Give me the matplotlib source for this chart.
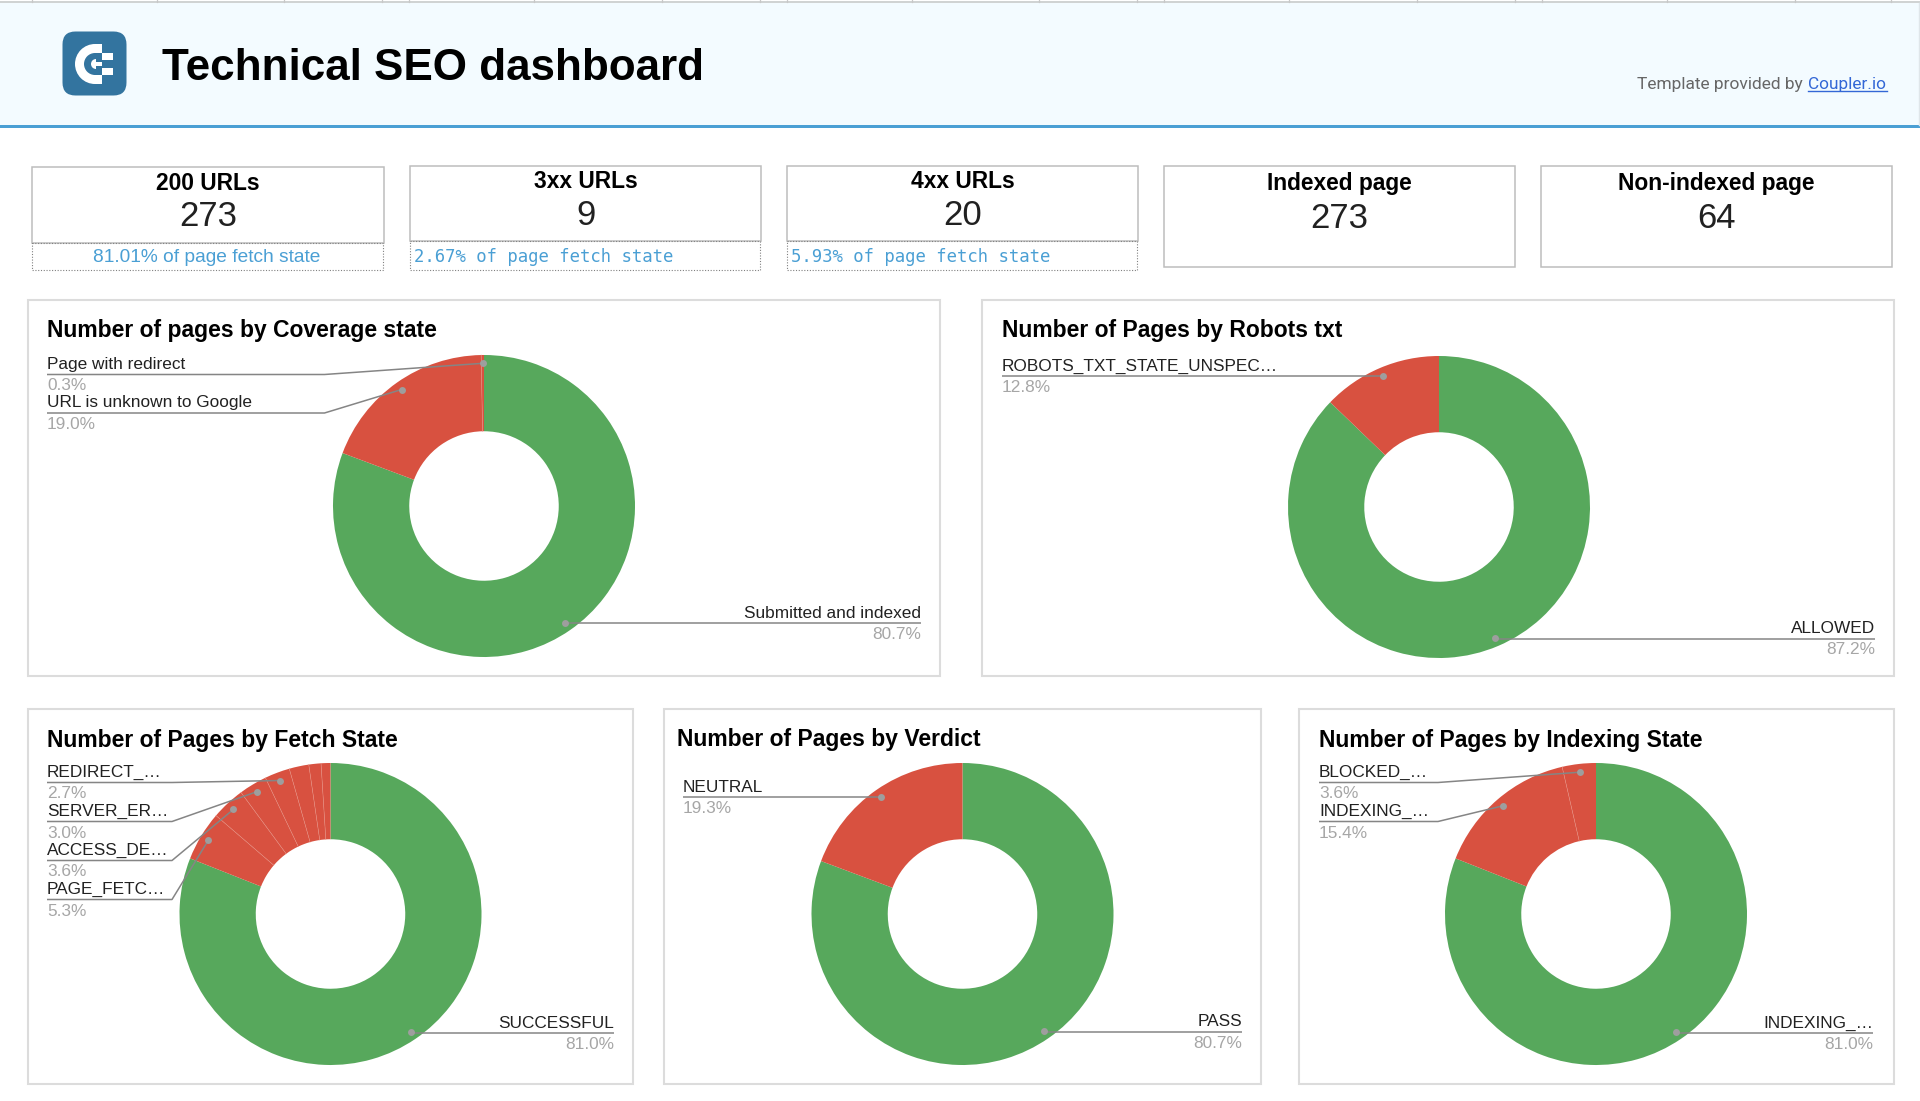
import numpy as np
import matplotlib
matplotlib.use('Agg')
import matplotlib.pyplot as plt
from matplotlib.patches import Rectangle, FancyBboxPatch, Wedge

W, H = 1920, 1101

# data
coverage_labels = ["Submitted and indexed", "URL is unknown to Google", "Page with redirect"]
coverage_values = [80.7, 19.0, 0.3]
robots_labels = ["ALLOWED", "ROBOTS_TXT_STATE_UNSPEC…"]
robots_values = [87.2, 12.8]
fetch_labels = ["SUCCESSFUL", "PAGE_FETC…", "ACCESS_DE…", "SERVER_ER…", "REDIRECT_…", "", "", ""]
fetch_values = [81.0, 5.3, 3.6, 3.0, 2.7, 2.1, 1.3, 1.0]
verdict_labels = ["PASS", "NEUTRAL"]
verdict_values = [80.7, 19.3]
indexing_labels = ["INDEXING_…", "INDEXING_…", "BLOCKED_…"]
indexing_values = [81.0, 15.4, 3.6]

card_titles = ["200 URLs", "3xx URLs", "4xx URLs", "Indexed page", "Non-indexed page"]
card_values = ["273", "9", "20", "273", "64"]
card_notes = ["81.01% of page fetch state", "2.67% of page fetch state", "5.93% of page fetch state", None, None]

GREEN = '#57a85c'
RED = '#d85140'
BLUE = '#4a9fd4'
LABEL_FONT = 'Liberation Sans'

# layout in picture pixels
# x0, x1, y0, y1, title baseline, value baseline, note baseline
card_boxes = [
    (32, 384, 167, 243, 190, 226, 262),
    (410, 761, 166, 241, 188.5, 225, 262),
    (787, 1138, 166, 241, 188.5, 225, 262),
    (1164, 1515, 166, 267, 190, 228, None),
    (1541, 1892, 166, 267, 190, 228, None),
]
# title, title x, title baseline, panel box, centre, values, labels, label spots
# label spot: label x, line y, elbow x (None = straight), align
panels = [
    ("Number of pages by Coverage state", 47, 337.5, (28, 940, 300, 676), (484, 506),
     coverage_values, coverage_labels,
     [(921, 623, None, 'right'), (47, 413, 324.5, 'left'), (47, 374.5, 324.5, 'left')]),
    ("Number of Pages by Robots txt", 1001.5, 337.5, (982, 1894, 300, 676), (1439, 507),
     robots_values, robots_labels,
     [(1875, 638.5, None, 'right'), (1001.5, 376, None, 'left')]),
    ("Number of Pages by Fetch State", 47, 747, (28, 633, 709, 1084), (330.5, 914),
     fetch_values, fetch_labels,
     [(614, 1033, None, 'right'), (47, 899.5, 172, 'left'), (47, 860.5, 172, 'left'),
      (47, 821.5, 172, 'left'), (47, 782.5, 172, 'left')]),
    ("Number of Pages by Verdict", 677, 746, (664, 1261, 709, 1084), (962.5, 914),
     verdict_values, verdict_labels,
     [(1242, 1032, None, 'right'), (683, 797, None, 'left')]),
    ("Number of Pages by Indexing State", 1319, 747, (1299, 1894, 709, 1084), (1596, 914),
     indexing_values, indexing_labels,
     [(1873, 1033, None, 'right'), (1319, 821.5, 1438, 'left'), (1319, 782.5, 1438, 'left')]),
]
RADIUS = 151
top_ticks = [32, 157, 284, 382, 409, 534, 662, 760, 787, 912, 1039, 1137, 1164, 1289,
             1417, 1515, 1542, 1667, 1795, 1891]

fig = plt.figure(figsize=(W / 100, H / 100), dpi=100, facecolor='white')
bg = fig.add_axes([0, 0, 1, 1], zorder=0)
top = fig.add_axes([0, 0, 1, 1], zorder=2)
for a in (bg, top):
    a.set_xlim(0, W)
    a.set_ylim(H, 0)
    a.axis('off')


def text(x, y, s, size, color='black', weight='normal', ha='left', family=LABEL_FONT):
    return top.text(x, y, s, fontsize=size, color=color, fontweight=weight, ha=ha, va='baseline', family=family)


# header
bg.add_patch(Rectangle((0, 3), W, 122, fc='#f3fbff', ec='none'))
bg.add_patch(Rectangle((0, 124.5), W, 3, fc=BLUE, ec='none'))
bg.add_patch(Rectangle((0, 1), W, 2, fc='#d0d3d3', ec='none'))
for t in top_ticks:
    bg.plot([t, t], [0, 2], color='#c8c8c8', lw=0.9)
bg.plot([1918.5, 1918.5], [3, 125], color='#dfe6ea', lw=1)

# logo
LOGO = '#33749f'
top.add_patch(FancyBboxPatch((71, 40), 47, 47, boxstyle='round,pad=8.5,rounding_size=13', fc=LOGO, ec='none'))
top.add_patch(Wedge((95, 64), 20, 90, 270, width=9, fc='white', ec='none'))
top.add_patch(Rectangle((95, 44), 6.7, 9, fc='white', ec='none'))
top.add_patch(Rectangle((95, 75), 6.7, 9.3, fc='white', ec='none'))
top.add_patch(Rectangle((101.7, 53), 11.5, 6.5, fc='white', ec='none'))
top.add_patch(Rectangle((101.7, 68), 11.5, 7, fc='white', ec='none'))
top.add_patch(Wedge((96, 64), 5, 90, 270, fc='white', ec='none'))
top.add_patch(Rectangle((96, 62), 5.5, 4, fc='white', ec='none'))

text(162, 80, "Technical SEO dashboard", 31.7, weight='bold')
text(1807, 89, "Template provided by ", 12.5, color='#666666', ha='right', family='Roboto')
text(1808, 89, "Coupler.io", 12.4, color='#3367d6', family='Roboto')
top.plot([1808, 1887], [91, 91], color='#3367d6', lw=1)

# score cards
for i, box in enumerate(card_boxes):
    x0, x1, y0, y1, ty, vy, ny = box
    cx = (x0 + x1) / 2
    bg.add_patch(Rectangle((x0, y0), x1 - x0, y1 - y0, fc='white', ec='#bdbdbd', lw=1.1))
    text(cx, ty, card_titles[i], 16.4, weight='bold', ha='center')
    text(cx, vy, card_values[i], 25, color='#212121', ha='center')
    if card_notes[i]:
        bg.add_patch(Rectangle((x0, y1), x1 - x0 - 1, 270 - y1, fc='none', ec='#808080', lw=0.8, ls=(0, (1, 1.5))))
        if i == 0:
            text(cx - 1, ny, card_notes[i], 13.8, color=BLUE, ha='center')
        else:
            text(x0 + 4, ny, card_notes[i], 12.4, color=BLUE, family='DejaVu Sans Mono')

# donuts
for title, tx, ty, box, centre, values, labels, spots in panels:
    x0, x1, y0, y1 = box
    cx, cy = centre
    bg.add_patch(Rectangle((x0, y0), x1 - x0, y1 - y0, fc='white', ec='#dcdcdc', lw=1.5))
    text(tx, ty, title, 16.5, weight='bold')

    pad = RADIUS * 1.02
    ax = fig.add_axes([(cx - pad) / W, 1 - (cy + pad) / H, 2 * pad / W, 2 * pad / H], zorder=1)
    colors = [GREEN] + [RED] * (len(values) - 1)
    wedges, _ = ax.pie(values, colors=colors, startangle=90, counterclock=False, radius=1,
                       wedgeprops=dict(width=0.505, linewidth=0))
    ax.set_xlim(-1.02, 1.02)
    ax.set_ylim(-1.02, 1.02)

    # faint seams between the red slices
    fractions = np.array(values) / sum(values)
    ends = np.cumsum(fractions)
    for e in ends[1:-1]:
        angle = 2 * np.pi * e
        ax.plot([0.495 * np.sin(angle), np.sin(angle)], [0.495 * np.cos(angle), np.cos(angle)],
                color='#e58a7c', lw=0.4)

    # leader lines start on the slice middle
    mids = ends - fractions / 2
    for k, spot in enumerate(spots):
        lx, ly, elbow, align = spot
        angle = 2 * np.pi * mids[k]
        dx = cx + 0.945 * RADIUS * np.sin(angle)
        dy = cy - 0.945 * RADIUS * np.cos(angle)
        if elbow is None:
            xs, ys = [lx, dx], [ly, dy if abs(dy - ly) > 3 else ly]
        else:
            xs, ys = [lx, elbow, dx], [ly, ly, dy]
        top.plot(xs, ys, color='#858585', lw=1.1, solid_capstyle='butt')
        top.plot([dx], [dy], 'o', ms=5, color='#9e9e9e', mec='none')
        text(lx, ly - 5.5, labels[k], 12.4, color='#212121', ha=align)
        text(lx, ly + 16, f"{values[k]:.1f}%", 12.4, color='#a6a6a6', ha=align)

fig.savefig('out.png', dpi=100)
